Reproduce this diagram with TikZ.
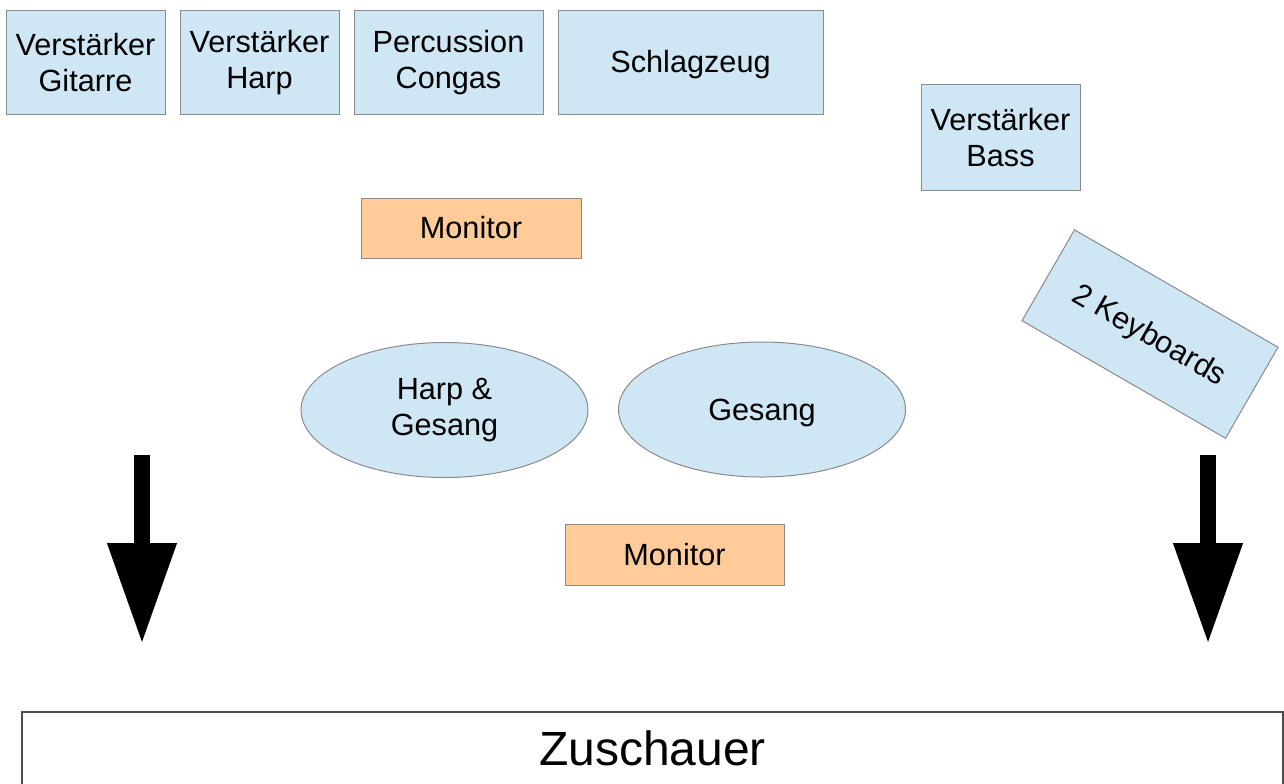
\documentclass[tikz,border=0pt]{standalone}
\usepackage{fontspec}
\setmainfont{Liberation Sans}
\usetikzlibrary{shapes.geometric,arrows.meta}
\definecolor{boxblue}{HTML}{CFE7F5}
\definecolor{boxorange}{HTML}{FFCC99}
\definecolor{edgegray}{HTML}{8A8A8A}
\begin{document}
\begin{tikzpicture}[x=0.75pt,y=-0.75pt,
  base/.style={draw=edgegray,line width=0.75pt,inner sep=0pt,align=center,
    font=\fontsize{23}{27}\selectfont},
  oneline/.style={text height=20.8pt,text depth=4.9pt},
  bluebox/.style={base,rectangle,fill=boxblue},
  monbox/.style={base,rectangle,fill=boxorange,oneline},
  oval/.style={base,ellipse,fill=boxblue},
  bigarrow/.style={line width=12pt,-{Triangle[width=49pt,length=75.75pt]}}]
\useasboundingbox (0,0) rectangle (1284,783);
\node[bluebox,minimum width=119.25pt,minimum height=78pt] (vg) at (85.5,62.5) {Verstärker\\Gitarre};
\node[bluebox,minimum width=119.25pt,minimum height=78pt] (vh) at (259.5,62.5) {Verstärker\\Harp};
\node[bluebox,minimum width=141.75pt,minimum height=78pt] (pc) at (448.5,62.5) {Percussion\\Congas};
\node[bluebox,oneline,minimum width=198.75pt,minimum height=78pt] (sz) at (690.5,62) {Schlagzeug};
\node[bluebox,minimum width=119.25pt,minimum height=79.5pt] (vb) at (1000.5,137.5) {Verstärker\\Bass};
\node[monbox,minimum width=165pt,minimum height=45pt] (m1) at (471,228) {Monitor};
\node[bluebox,oneline,minimum width=176.25pt,minimum height=78.75pt,rotate=-30] (kb) at (1150,334) {2 Keyboards};
\node[oval,minimum width=215.25pt,minimum height=101.25pt] (hg) at (444.5,410) {Harp \&\\Gesang};
\node[oval,oneline,minimum width=215.25pt,minimum height=101.25pt] (ge) at (762,409.5) {Gesang};
\node[monbox,minimum width=164.25pt,minimum height=45.75pt] (m2) at (674.5,554.5) {Monitor};
\node[draw=black!70,line width=1.2pt,fill=white,rectangle,inner sep=0pt,
  minimum width=945.75pt,minimum height=54.75pt,font=\fontsize{36}{43}\selectfont] (zu) at (652.5,748.5) {Zuschauer};
\coordinate (la) at (142,455);
\coordinate (lb) at (142,644);
\coordinate (ra) at (1208,455);
\coordinate (rb) at (1208,644);
\draw[bigarrow] (la) -- (lb);
\draw[bigarrow] (ra) -- (rb);
\end{tikzpicture}
\end{document}
